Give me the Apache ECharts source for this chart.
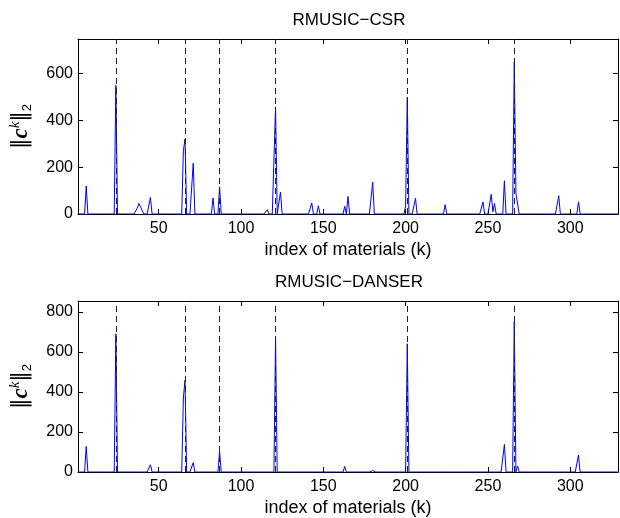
<!DOCTYPE html>
<html>
<head>
<meta charset="utf-8">
<script src="https://cdn.jsdelivr.net/npm/echarts@6/dist/echarts.min.js"></script>
<style>
html,body{margin:0;padding:0;background:#fff;}
#chart{width:620px;height:518px;}
</style>
</head>
<body>
<div id="chart"></div>
<script>
// ---- data ----
const xMin = 1, xMax = 329;
const xTicks = [50, 100, 150, 200, 250, 300];
const titles = ['RMUSIC\u2212CSR', 'RMUSIC\u2212DANSER'];
const xLabel = 'index of materials (k)';
// true material indices (dashed lines)
const trueK = [24, 66, 87, 121, 201, 266];
// RMUSIC-CSR: nonzero values (index, value)
const csrK = [6, 24, 37, 38, 39, 40, 45, 65, 66, 71, 83, 87, 116, 121, 124, 143, 147, 163, 165, 180, 200, 201, 206, 224, 247, 252, 253, 254, 260, 266, 267, 268, 293, 305];
const csrV = [120, 550, 25, 45, 30, 28, 71, 270, 320, 217, 68, 116, 18, 458, 94, 47, 35, 33, 75, 136, 35, 500, 67, 40, 51, 84, 10, 45, 142, 650, 88, 90, 78, 52];
const csrYMax = 748;
const csrYTicks = [0, 200, 400, 600];
// RMUSIC-DANSER
const danK = [6, 24, 45, 65, 66, 71, 87, 121, 163, 180, 201, 260, 266, 268, 305];
const danV = [128, 691, 36, 370, 459, 47, 102, 673, 28, 7, 641, 138, 754, 30, 85];
const danYMax = 855;
const danYTicks = [0, 200, 400, 600, 800];

function fullSeries(ks, vs) {
  const m = new Map();
  ks.forEach((k, i) => m.set(k, vs[i]));
  const out = [];
  for (let k = xMin; k <= xMax; k++) out.push([k, m.has(k) ? m.get(k) : 0]);
  return out;
}

const FONT = 'Liberation Sans';
const grids = [
  {left: 77, top: 39, width: 541, height: 175},
  {left: 77, top: 301, width: 541, height: 175}
];

function xAxes(gi) {
  const base = {
    type: 'value', gridIndex: gi, min: xMin, max: xMax,
    splitLine: {show: false},
    axisLine: {show: true, onZero: false, lineStyle: {color: '#000', width: 1}},
    axisTick: {show: true, inside: true, length: 5, customValues: xTicks, lineStyle: {color: '#000'}},
  };
  return [
    Object.assign({}, base, {
      position: 'bottom',
      axisLabel: {show: true, customValues: xTicks, color: '#000', fontFamily: FONT, fontSize: 16, margin: 7},
      name: xLabel, nameLocation: 'middle', nameGap: 27,
      nameTextStyle: {color: '#000', fontFamily: FONT, fontSize: 18}
    }),
    Object.assign({}, base, {position: 'top', axisLabel: {show: false}})
  ];
}
function yAxes(gi, ymax, ticks) {
  const base = {
    type: 'value', gridIndex: gi, min: 0, max: ymax,
    splitLine: {show: false},
    axisLine: {show: true, onZero: false, lineStyle: {color: '#000', width: 1}},
    axisTick: {show: true, inside: true, length: 5, customValues: ticks, lineStyle: {color: '#000'}},
  };
  return [
    Object.assign({}, base, {
      position: 'left',
      axisLabel: {show: true, customValues: ticks, color: '#000', fontFamily: FONT, fontSize: 16, margin: 5},
      name: '{b|\u2016}{c|c}{k|k}{b|\u2016}{s|2}',
      nameLocation: 'middle', nameGap: 44,
      nameTextStyle: {
        color: '#000',
        rich: {
          b: {fontFamily: 'DejaVu Sans', fontSize: 21, lineHeight: 26, color: '#000'},
          c: {fontFamily: 'Liberation Serif', fontWeight: 'bold', fontStyle: 'italic', fontSize: 23, lineHeight: 26, color: '#000'},
          k: {fontFamily: 'Liberation Serif', fontStyle: 'italic', fontSize: 15, lineHeight: 15, verticalAlign: 'top', color: '#000'},
          s: {fontFamily: 'Liberation Sans', fontSize: 13, lineHeight: 13, verticalAlign: 'bottom', color: '#000'}
        }
      }
    }),
    Object.assign({}, base, {position: 'right', axisLabel: {show: false}})
  ];
}

function lineSeries(gi, data) {
  return {
    type: 'line', xAxisIndex: gi * 2, yAxisIndex: gi * 2,
    data: data, showSymbol: false, symbol: 'none',
    lineStyle: {color: '#0000ff', width: 1},
    z: 2,
    markLine: {
      silent: true, symbol: ['none', 'none'],
      label: {show: false},
      lineStyle: {color: '#222', type: [6, 4], width: 1},
      data: trueK.map(k => ({xAxis: k})),
      z: 3
    }
  };
}

const chart = echarts.init(document.getElementById('chart'), null, {renderer: 'canvas'});
chart.setOption({
  animation: false,
  backgroundColor: '#fff',
  grid: grids,
  xAxis: [...xAxes(0), ...xAxes(1)],
  yAxis: [...yAxes(0, csrYMax, csrYTicks), ...yAxes(1, danYMax, danYTicks)],
  graphic: [
    {type: 'text', x: 349, y: 20, style: {text: titles[0], fill: '#000', font: '17px "Liberation Sans"', textAlign: 'center', textVerticalAlign: 'middle'}},
    {type: 'text', x: 349, y: 282, style: {text: titles[1], fill: '#000', font: '17px "Liberation Sans"', textAlign: 'center', textVerticalAlign: 'middle'}}
  ],
  series: [lineSeries(0, fullSeries(csrK, csrV)), lineSeries(1, fullSeries(danK, danV))]
});
</script>
</body>
</html>
